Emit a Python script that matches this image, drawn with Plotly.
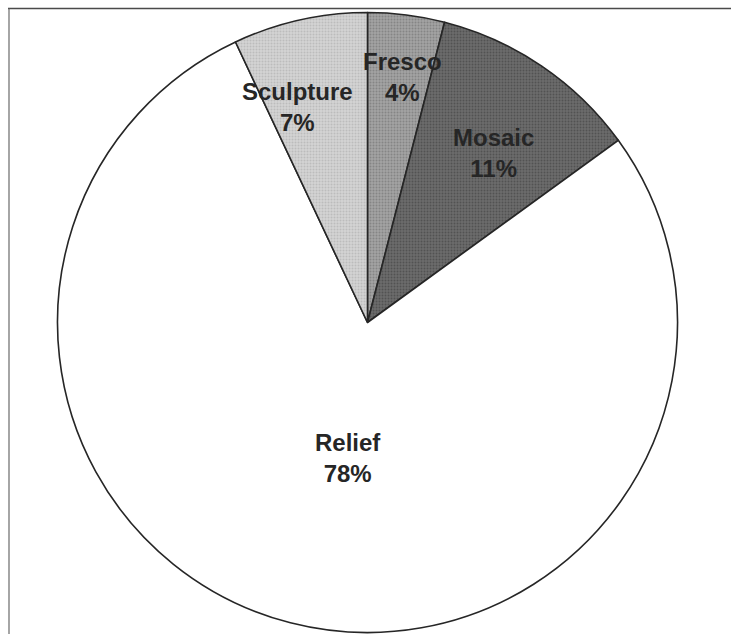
import math
import plotly.graph_objects as go

# Share of works by technique
techniques = ["Fresco", "Mosaic", "Relief", "Sculpture"]
shares = [4, 11, 78, 7]

slice_colors = ["#a3a3a3", "#6c6c6c", "#ffffff", "#d4d4d4"]
grain_colors = ["#858585", "#525252", "#ffffff", "#bcbcbc"]

# label placement: radial fraction of radius and angular nudge (degrees)
label_radius = [0.80, 0.68, 0.442, 0.73]
label_nudge = [1.0, 2.5, -6.2, -5.5]

W, H = 731, 634
cx, cy, R = 367.5, 322.5, 310.0

fig = go.Figure(
    go.Pie(
        labels=techniques,
        values=shares,
        sort=False,
        direction="clockwise",
        rotation=0,
        textinfo="none",
        hoverinfo="label+percent",
        marker=dict(
            colors=slice_colors,
            line=dict(color="#262626", width=1.6),
            pattern=dict(
                shape=["." if c != "#ffffff" else "" for c in slice_colors],
                fgcolor=grain_colors,
                bgcolor=slice_colors,
                size=3,
                solidity=0.35,
            ),
        ),
        domain=dict(
            x=[(cx - R) / W, (cx + R) / W],
            y=[(H - cy - R) / H, (H - cy + R) / H],
        ),
        showlegend=False,
    )
)

# Category / percentage labels, placed along each slice's bisector
total = sum(shares)
start = 0.0
annotations = []
for name, v, rf, nudge in zip(techniques, shares, label_radius, label_nudge):
    mid = (start + v / 2) / total * 360.0 + nudge
    start += v
    a = math.radians(mid)
    px = cx + rf * R * math.sin(a)
    py = cy - rf * R * math.cos(a)
    annotations.append(
        dict(
            x=px / W,
            y=1 - py / H,
            xref="paper",
            yref="paper",
            xanchor="center",
            yanchor="middle",
            text=f"<b>{name}<br>{round(v / total * 100)}%</b>",
            showarrow=False,
            font=dict(family="Liberation Sans, Arial, sans-serif", size=24, color="#262626"),
            align="center",
        )
    )

fig.update_layout(
    width=W,
    height=H,
    margin=dict(l=0, r=0, t=0, b=0),
    paper_bgcolor="white",
    plot_bgcolor="white",
    annotations=annotations,
    shapes=[
        dict(type="line", xref="paper", yref="paper",
             x0=8 / W, x1=1, y0=1 - 8.5 / H, y1=1 - 8.5 / H,
             line=dict(color="#4a4a4a", width=1.6)),
        dict(type="line", xref="paper", yref="paper",
             x0=9 / W, x1=9 / W, y0=1 - 8.5 / H, y1=0,
             line=dict(color="#6a6a6a", width=1.2)),
    ],
)

fig.write_html("out.html")
